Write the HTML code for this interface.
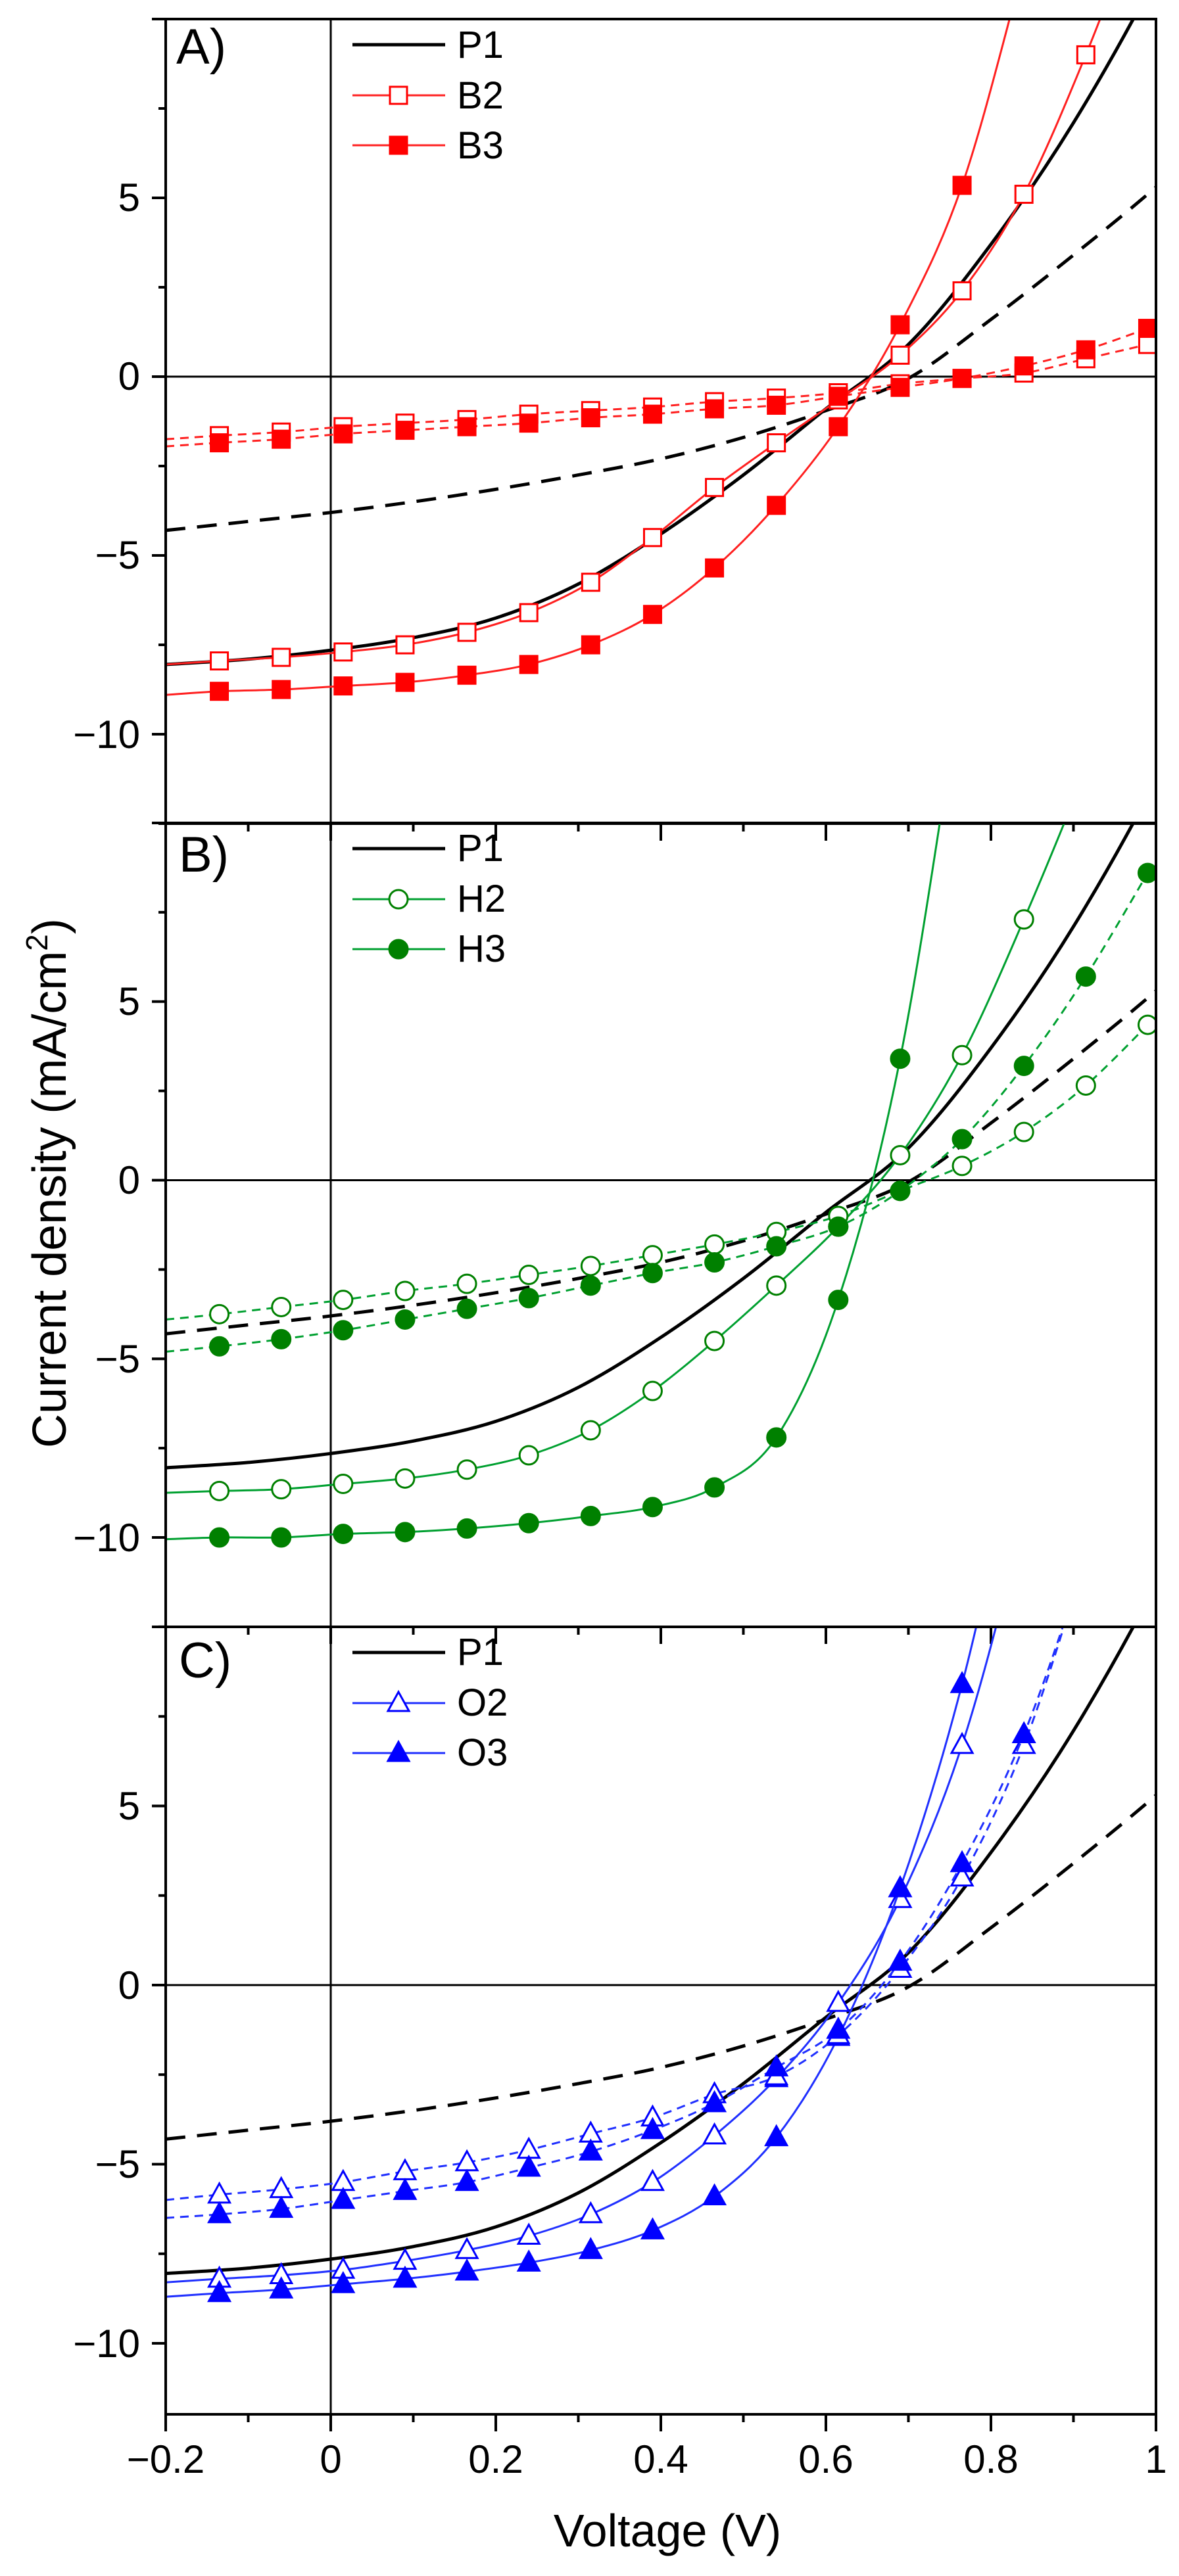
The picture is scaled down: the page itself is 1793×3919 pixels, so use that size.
<!DOCTYPE html>
<html><head><meta charset="utf-8">
<style>
html,body{margin:0;padding:0;background:#fff;}
svg{display:block;}
text{font-family:"Liberation Sans",Arial,sans-serif;fill:#000;}
</style></head>
<body>
<svg id="s" width="1793" height="3919" viewBox="0 0 1793 3919" xmlns="http://www.w3.org/2000/svg">
<defs>
<clipPath id="cA"><rect x="252" y="29" width="1506" height="1224"/></clipPath>
<clipPath id="cB"><rect x="252" y="1252" width="1506" height="1223"/></clipPath>
<clipPath id="cC"><rect x="252" y="2475" width="1506" height="1198"/></clipPath>
</defs>
<g id="plots"></g>
<g font-size="60" text-anchor="end">
<text x="213" y="321">5</text>
<text x="213" y="593">0</text>
<text x="213" y="865">−5</text>
<text x="213" y="1138">−10</text>
<text x="213" y="1544">5</text>
<text x="213" y="1816">0</text>
<text x="213" y="2088">−5</text>
<text x="213" y="2360">−10</text>
<text x="213" y="2768">5</text>
<text x="213" y="3041">0</text>
<text x="213" y="3313">−5</text>
<text x="213" y="3586">−10</text>
</g>
<g font-size="60" text-anchor="middle">
<text x="252" y="3762">−0.2</text>
<text x="503" y="3762">0</text>
<text x="754" y="3762">0.2</text>
<text x="1005" y="3762">0.4</text>
<text x="1256" y="3762">0.6</text>
<text x="1507" y="3762">0.8</text>
<text x="1758" y="3762">1</text>
</g>
<text x="1015" y="3874" font-size="70" text-anchor="middle">Voltage (V)</text>
<text transform="translate(100,1800) rotate(-90)" font-size="72" text-anchor="middle">Current density (mA/cm<tspan dy="-28" font-size="46">2</tspan><tspan dy="28">)</tspan></text>
<g font-size="76">
<text x="268" y="97">A)</text>
<text x="272" y="1326">B)</text>
<text x="272" y="2552">C)</text>
</g>
<g font-size="58">
<text x="695" y="88">P1</text><text x="695" y="165">B2</text><text x="695" y="241">B3</text>
<text x="695" y="1310">P1</text><text x="695" y="1387">H2</text><text x="695" y="1463">H3</text>
<text x="695" y="2533">P1</text><text x="695" y="2610">O2</text><text x="695" y="2686">O3</text>
</g>
</svg>
<script>
var NS="http://www.w3.org/2000/svg";
var G=document.getElementById("plots");
function el(t,a,p){var e=document.createElementNS(NS,t);for(var k in a)e.setAttribute(k,a[k]);(p||G).appendChild(e);return e;}
var X0=252,XS=1255;
function px(v){return X0+(v+0.2)*XS;}
var panels=[{top:29,bot:1253,sc:54.4,clip:"cA"},{top:1252,bot:2475,sc:54.35,clip:"cB"},{top:2475,bot:3673,sc:54.5,clip:"cC"}];
function path(pts,P){
  var p=pts.map(function(d){return [px(d[0]),P.top+(10-d[1])*P.sc];});
  var s="M"+p[0][0].toFixed(1)+","+p[0][1].toFixed(1);
  for(var i=0;i<p.length-1;i++){
    var a=p[i-1]||p[i],b=p[i],c=p[i+1],d=p[i+2]||c;
    var c1=[b[0]+(c[0]-a[0])/6,b[1]+(c[1]-a[1])/6],c2=[c[0]-(d[0]-b[0])/6,c[1]-(d[1]-b[1])/6];
    s+="C"+c1[0].toFixed(1)+","+c1[1].toFixed(1)+" "+c2[0].toFixed(1)+","+c2[1].toFixed(1)+" "+c[0].toFixed(1)+","+c[1].toFixed(1);
  }
  return s;
}
var MX=[-0.135,-0.06,0.015,0.09,0.165,0.24,0.315,0.39,0.465,0.54,0.615,0.69,0.765,0.84,0.915,0.99];
function series(xs,ys){var r=[];for(var i=0;i<ys.length;i++)r.push([xs[i],ys[i]]);return r;}
var P1s=[[-0.2,-8.05],[-0.1,-7.9],[0,-7.65],[0.1,-7.3],[0.2,-6.75],[0.3,-5.8],[0.4,-4.4],[0.5,-2.75],[0.6,-0.9],[0.7,0.9],[0.8,3.7],[0.9,7.1],[1.0,11.2],[1.1,16]];
var P1d=[[-0.2,-4.3],[-0.1,-4.05],[0,-3.8],[0.1,-3.5],[0.2,-3.15],[0.3,-2.75],[0.4,-2.3],[0.5,-1.7],[0.6,-0.95],[0.7,-0.05],[0.8,1.6],[0.9,3.4],[1.0,5.3],[1.1,7.4]];
function mk(shape,x,y,col,filled,g){
  var f=filled?col:"#fff",sw=3;
  if(shape=="sq")el("rect",{x:x-13,y:y-13,width:26,height:26,fill:f,stroke:col,"stroke-width":sw},g);
  else if(shape=="ci")el("circle",{cx:x,cy:y,r:14,fill:f,stroke:col,"stroke-width":sw},g);
  else el("polygon",{points:(x)+","+(y-17)+" "+(x-16)+","+(y+12)+" "+(x+16)+","+(y+12),fill:f,stroke:col,"stroke-width":sw},g);
}
function drawSeries(P,g,d,col,mcol,dash,shape,filled,start){
  var pts=[[ -0.2,start]].concat(series(MX,d));
  el("path",{d:path(pts,P),fill:"none",stroke:col,"stroke-width":3,"stroke-dasharray":dash?"13,9":"none"},g);
  for(var i=0;i<d.length;i++){
    var y=P.top+(10-d[i])*P.sc; if(y<P.top-20)continue;
    mk(shape,px(MX[i]),y,mcol,filled,g);
  }
}
var data=[
 {col:"#ff2020",mcol:"#ff0000",shape:"sq",names:[],
  s:[{d:[-7.95,-7.85,-7.7,-7.5,-7.15,-6.6,-5.75,-4.5,-3.1,-1.85,-0.65,0.6,2.4,5.1,9.0,13.5],st:-8.05,f:false,dash:false},
     {d:[-8.8,-8.75,-8.65,-8.55,-8.35,-8.05,-7.5,-6.65,-5.35,-3.6,-1.4,1.45,5.35,11.5,18,25],st:-8.9,f:true,dash:false},
     {d:[-1.65,-1.55,-1.4,-1.3,-1.2,-1.05,-0.95,-0.85,-0.7,-0.6,-0.45,-0.2,-0.05,0.1,0.5,0.9],st:-1.75,f:false,dash:true},
     {d:[-1.85,-1.75,-1.6,-1.5,-1.4,-1.3,-1.15,-1.05,-0.9,-0.8,-0.55,-0.3,-0.05,0.3,0.75,1.35],st:-1.95,f:true,dash:true}]},
 {col:"#00a030",mcol:"#008000",shape:"ci",
  s:[{d:[-8.7,-8.65,-8.5,-8.35,-8.1,-7.7,-7.0,-5.9,-4.5,-2.95,-1.3,0.7,3.5,7.3,11.5,16],st:-8.75,f:false,dash:false},
     {d:[-10.0,-10.0,-9.9,-9.85,-9.75,-9.6,-9.4,-9.15,-8.6,-7.2,-3.35,3.4,14,25,35,45],st:-10.05,f:true,dash:false},
     {d:[-3.75,-3.55,-3.35,-3.1,-2.9,-2.65,-2.4,-2.1,-1.8,-1.45,-1.0,-0.3,0.4,1.35,2.65,4.35],st:-3.9,f:false,dash:true},
     {d:[-4.65,-4.45,-4.2,-3.9,-3.6,-3.3,-2.95,-2.6,-2.3,-1.85,-1.3,-0.3,1.15,3.2,5.7,8.6],st:-4.8,f:true,dash:true}]},
 {col:"#2030ff",mcol:"#0000ff",shape:"tr",
  s:[{d:[-8.2,-8.1,-7.95,-7.7,-7.4,-7.0,-6.4,-5.5,-4.2,-2.6,-0.5,2.4,6.7,13,20,27],st:-8.3,f:false,dash:false},
     {d:[-8.6,-8.5,-8.35,-8.2,-8.0,-7.75,-7.4,-6.85,-5.9,-4.25,-1.45,2.7,8.4,16,24,32],st:-8.7,f:true,dash:false},
     {d:[-5.85,-5.7,-5.5,-5.2,-4.95,-4.6,-4.15,-3.7,-3.05,-2.55,-1.4,0.45,3.0,6.7,12,18],st:-6.0,f:false,dash:true},
     {d:[-6.4,-6.25,-6.0,-5.75,-5.5,-5.1,-4.65,-4.05,-3.3,-2.3,-1.25,0.65,3.4,7.0,12,18],st:-6.5,f:true,dash:true}]}
];
panels.forEach(function(P,k){
  var g=el("g",{"clip-path":"url(#"+P.clip+")"});
  var y0=P.top+10*P.sc;
  el("line",{x1:252,x2:1758,y1:y0,y2:y0,stroke:"#000","stroke-width":3},g);
  el("line",{x1:503,x2:503,y1:P.top,y2:P.bot,stroke:"#000","stroke-width":3},g);
  el("path",{d:path(P1d,P),fill:"none",stroke:"#000","stroke-width":5,"stroke-dasharray":"30,18"},g);
  el("path",{d:path(P1s,P),fill:"none",stroke:"#000","stroke-width":5},g);
  var D=data[k];
  D.s.forEach(function(s){drawSeries(P,g,s.d,D.col,D.mcol,s.dash,D.shape,s.f,s.st);});
  el("rect",{x:252,y:P.top,width:1506,height:P.bot-P.top,fill:"none",stroke:"#000","stroke-width":4});
  for(var v=-12.5;v<=10;v+=2.5){var y=P.top+(10-v)*P.sc;if(y>P.bot+1)continue;var maj=(Math.abs(v%5)<0.01);
    el("line",{x1:252-(maj?21:11),x2:252,y1:y,y2:y,stroke:"#000","stroke-width":4});}
  for(var i=0;i<=12;i++){var x=px(-0.2+i*0.1),maj=(i%2==0);
    el("line",{x1:x,x2:x,y1:P.bot,y2:P.bot+(maj?26:12),stroke:"#000","stroke-width":4});}
  var ly=P.top+39;
  el("line",{x1:536,x2:677,y1:ly,y2:ly,stroke:"#000","stroke-width":5});
  el("line",{x1:536,x2:677,y1:ly+77,y2:ly+77,stroke:D.col,"stroke-width":3});
  el("line",{x1:536,x2:677,y1:ly+153,y2:ly+153,stroke:D.col,"stroke-width":3});
  mk(D.shape,606,ly+77,D.mcol,false);
  mk(D.shape,606,ly+153,D.mcol,true);
});
</script>
</body></html>
